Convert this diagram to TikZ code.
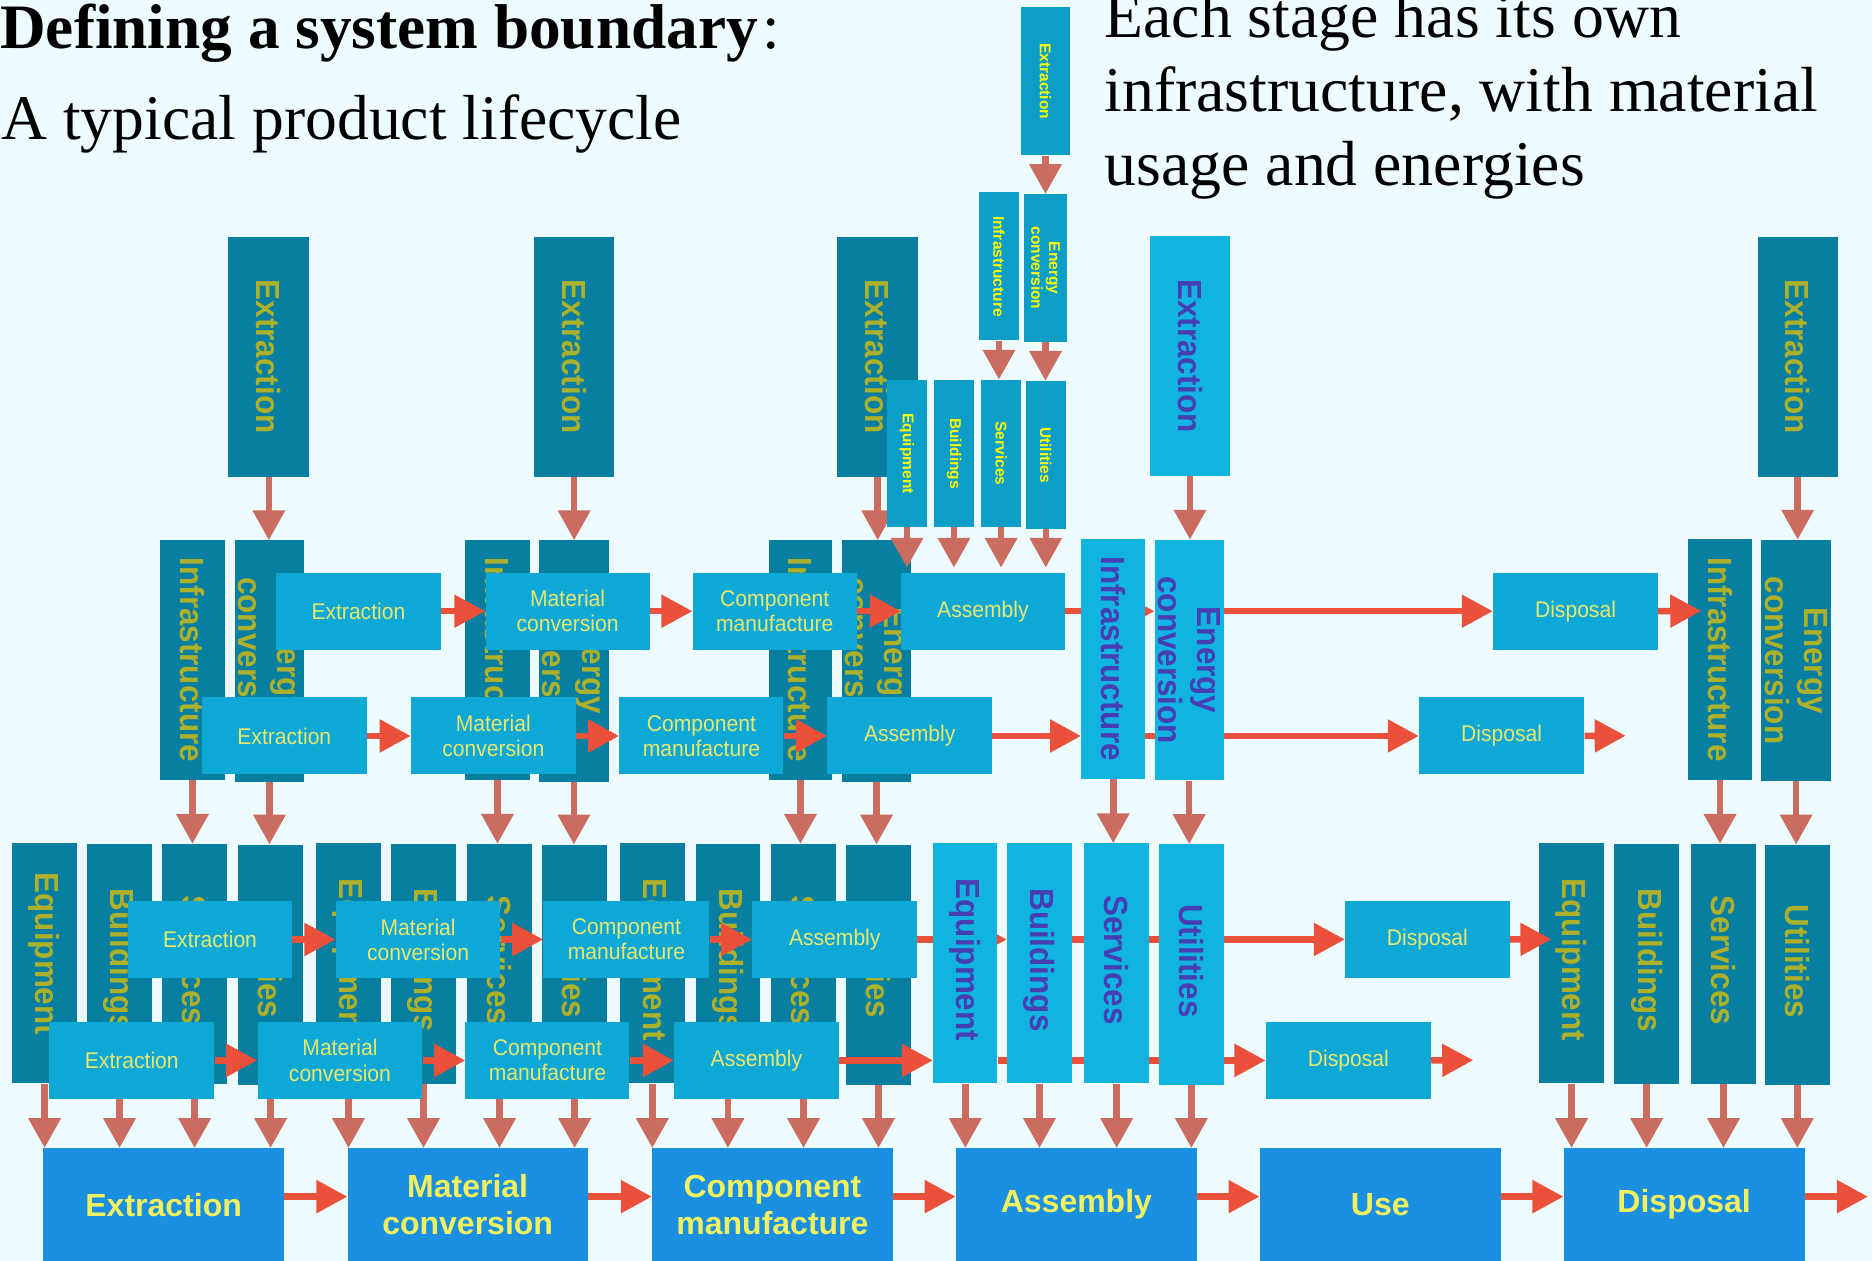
\documentclass[tikz,border=0pt]{standalone}
\usepackage{fontspec}
\setmainfont{Liberation Serif}
\newfontfamily\lsans{Liberation Sans}
\usetikzlibrary{arrows.meta}
\definecolor{cBg}{RGB}{238,252,255}
\definecolor{cTeal}{RGB}{8,126,160}
\definecolor{cOlive}{RGB}{172,176,42}
\definecolor{cBright}{RGB}{17,179,225}
\definecolor{cPurple}{RGB}{70,62,178}
\definecolor{cFlow}{RGB}{14,168,214}
\definecolor{cFtxt}{RGB}{232,232,110}
\definecolor{cTow}{RGB}{13,158,200}
\definecolor{cYel}{RGB}{255,255,0}
\definecolor{cBot}{RGB}{27,143,224}
\definecolor{cBtxt}{RGB}{240,240,96}
\definecolor{cVarr}{RGB}{203,108,96}
\definecolor{cHarr}{RGB}{234,80,58}
\pgfdeclarelayer{L0}\pgfdeclarelayer{L1}\pgfdeclarelayer{L2}\pgfdeclarelayer{L3}
\pgfsetlayers{L0,L1,L2,L3,main}
\newcommand\sq[1]{\scalebox{0.94}[1]{#1}}
\newcommand\fq[1]{\scalebox{0.93}[1]{#1}}
\newcommand\bx[8]{%
  \node[#6,anchor=north west,inner sep=0pt,minimum width={(#4-#2)*1pt},minimum height={(#5-#3)*1pt}] (#1) at (#2,#3) {};
  \node[#7] (#1t) at (#1.center) {#8};}
\tikzset{
  tealbox/.style={fill=cTeal},
  brightbox/.style={fill=cBright},
  flowbox/.style={fill=cFlow},
  towbox/.style={fill=cTow},
  botbox/.style={fill=cBot},
  vt/.style={rotate=-90,inner sep=0pt,align=center,text=cOlive,font=\lsans\bfseries\fontsize{28}{33}\selectfont},
  vtD/.style={vt,text=cPurple},
  lt/.style={vt,xshift=-3pt},
  ltA/.style={vt,xshift=-8pt},
  ltD/.style={vtD,xshift=-3pt},
  tt/.style={rotate=-90,inner sep=0pt,align=center,text=cYel,font=\lsans\bfseries\fontsize{13}{15}\selectfont},
  ft/.style={inner sep=0pt,align=center,text=cFtxt,font=\lsans\fontsize{19}{21}\selectfont},
  bt/.style={inner sep=0pt,align=center,text=cBtxt,font=\lsans\bfseries\fontsize{26.8}{31}\selectfont},
  varr/.style={draw=cVarr,line width=5.5pt,-{Triangle[length=25pt,width=26pt]}},
  harr/.style={draw=cHarr,line width=5.5pt,-{Triangle[length=26pt,width=26.5pt]}},
}
\begin{document}
\begin{tikzpicture}[x=1pt,y=-1pt]
\useasboundingbox (0,0) rectangle (1568,1056);
\begin{pgfonlayer}{L0}
\fill[cBg] (0,0) rectangle (1568,1056);
\end{pgfonlayer}
% ---------- level 1
\begin{pgfonlayer}{L1}
\bx{xA}{191}{198}{259}{399}{tealbox}{vt}{\sq{Extraction}}
\bx{xB}{447}{198}{514.5}{399}{tealbox}{vt}{\sq{Extraction}}
\bx{xC}{701}{198}{769}{399}{tealbox}{vt}{\sq{Extraction}}
\bx{xD}{963}{197.5}{1030}{398.5}{brightbox}{vtD}{\sq{Extraction}}
\bx{xE}{1472}{198}{1539}{399}{tealbox}{vt}{\sq{Extraction}}
\end{pgfonlayer}
% ---------- level 2 and 3
\begin{pgfonlayer}{L2}
\bx{iA}{134}{452}{188}{653}{tealbox}{vt}{\sq{Infrastructure}}
\bx{eA}{196.5}{452.5}{254.5}{654.5}{tealbox}{vt}{\sq{Energy}\\\sq{conversion}}
\bx{iB}{389.5}{452}{443.5}{653}{tealbox}{vt}{\sq{Infrastructure}}
\bx{eB}{451.5}{452.5}{509.5}{654.5}{tealbox}{vt}{\sq{Energy}\\\sq{conversion}}
\bx{iC}{643.5}{452}{697}{653}{tealbox}{vt}{\sq{Infrastructure}}
\bx{eC}{705}{452.5}{763}{654.5}{tealbox}{vt}{\sq{Energy}\\\sq{conversion}}
\bx{iD}{905.5}{451}{959}{652}{brightbox}{vtD}{\sq{Infrastructure}}
\bx{eD}{967}{452}{1024.7}{653.5}{brightbox}{vtD}{\sq{Energy}\\\sq{conversion}}
\bx{iE}{1414}{451.5}{1467}{653}{tealbox}{vt}{\sq{Infrastructure}}
\bx{eE}{1475}{452}{1533.5}{654}{tealbox}{vt}{\sq{Energy}\\\sq{conversion}}
%
\bx{qA}{10}{706.3}{64.3}{907.3}{tealbox}{ltA}{\sq{Equipment}}
\bx{bA}{72.8}{706.8}{127}{907.8}{tealbox}{lt}{\sq{Buildings}}
\bx{sA}{135.6}{706.8}{190}{907.8}{tealbox}{lt}{\sq{Services}}
\bx{uA}{199.3}{707.3}{253.6}{908.8}{tealbox}{lt}{\sq{Utilities}}
\bx{qB}{264.6}{706.3}{318.8}{907.3}{tealbox}{lt}{\sq{Equipment}}
\bx{bB}{327.4}{706.8}{381.6}{907.8}{tealbox}{lt}{\sq{Buildings}}
\bx{sB}{391}{706.8}{445.4}{907.8}{tealbox}{lt}{\sq{Services}}
\bx{uB}{454}{707.3}{508.2}{908.8}{tealbox}{lt}{\sq{Utilities}}
\bx{qC}{519}{706.3}{573.4}{907.3}{tealbox}{lt}{\sq{Equipment}}
\bx{bC}{582.4}{706.8}{636.6}{907.8}{tealbox}{lt}{\sq{Buildings}}
\bx{sC}{645.7}{706.8}{700}{907.8}{tealbox}{lt}{\sq{Services}}
\bx{uC}{708.5}{707.3}{762.7}{908.8}{tealbox}{lt}{\sq{Utilities}}
\bx{qD}{781.4}{706.3}{835.3}{907.3}{brightbox}{ltD}{\sq{Equipment}}
\bx{bD}{843.3}{706.3}{897.6}{907.3}{brightbox}{ltD}{\sq{Buildings}}
\bx{sD}{907.7}{706.3}{962.5}{907.3}{brightbox}{ltD}{\sq{Services}}
\bx{uD}{970.5}{707}{1024.9}{908.3}{brightbox}{ltD}{\sq{Utilities}}
\bx{qE}{1289}{706.3}{1343.3}{907.3}{tealbox}{lt}{\sq{Equipment}}
\bx{bE}{1351.8}{706.8}{1406.2}{907.8}{tealbox}{lt}{\sq{Buildings}}
\bx{sE}{1416.3}{706.8}{1470.5}{907.8}{tealbox}{lt}{\sq{Services}}
\bx{uE}{1478}{707.3}{1532.4}{908.8}{tealbox}{lt}{\sq{Utilities}}
\end{pgfonlayer}
% ---------- small tower
\bx{t0x}{855}{5.6}{896}{130}{towbox}{tt}{Extraction}
\bx{t0i}{820}{161}{853}{285}{towbox}{tt}{Infrastructure}
\bx{t0e}{857.6}{162.5}{893.4}{286}{towbox}{tt}{Energy\\conversion}
\bx{t1q}{743}{318}{776}{441.4}{towbox}{tt}{Equipment}
\bx{t1b}{782}{318}{815.7}{441.4}{towbox}{tt}{Buildings}
\bx{t1s}{821.6}{318}{855}{441.4}{towbox}{tt}{Services}
\bx{t1u}{859}{319}{892.5}{443}{towbox}{tt}{Utilities}
% ---------- flow rows
\bx{f1a}{231}{479.5}{369}{544}{flowbox}{ft}{\fq{Extraction}}
\bx{f1b}{406.5}{479.5}{544}{544}{flowbox}{ft}{\fq{Material}\\\fq{conversion}}
\bx{f1c}{580}{479.5}{717.5}{544}{flowbox}{ft}{\fq{Component}\\\fq{manufacture}}
\bx{f1d}{754.5}{479.5}{891.7}{544}{flowbox}{ft}{\fq{Assembly}}
\bx{f1e}{1250.4}{479.5}{1388.5}{544}{flowbox}{ft}{\fq{Disposal}}
\bx{f2a}{168.6}{584}{307.3}{648.5}{flowbox}{ft}{\fq{Extraction}}
\bx{f2b}{344}{584}{482}{648.5}{flowbox}{ft}{\fq{Material}\\\fq{conversion}}
\bx{f2c}{518.6}{584}{656}{648.5}{flowbox}{ft}{\fq{Component}\\\fq{manufacture}}
\bx{f2d}{692.7}{584}{830.9}{648.5}{flowbox}{ft}{\fq{Assembly}}
\bx{f2e}{1188.4}{584}{1326.8}{648.5}{flowbox}{ft}{\fq{Disposal}}
\bx{f3a}{107}{754.6}{244.5}{818.8}{flowbox}{ft}{\fq{Extraction}}
\bx{f3b}{281}{754.6}{419}{818.8}{flowbox}{ft}{\fq{Material}\\\fq{conversion}}
\bx{f3c}{455}{754.6}{594}{818.8}{flowbox}{ft}{\fq{Component}\\\fq{manufacture}}
\bx{f3d}{630}{754.6}{768}{818.8}{flowbox}{ft}{\fq{Assembly}}
\bx{f3e}{1126.5}{754.6}{1264.3}{818.8}{flowbox}{ft}{\fq{Disposal}}
\bx{f4a}{41}{856}{179.4}{920}{flowbox}{ft}{\fq{Extraction}}
\bx{f4b}{215.5}{856}{353.6}{920}{flowbox}{ft}{\fq{Material}\\\fq{conversion}}
\bx{f4c}{389.7}{856}{527}{920}{flowbox}{ft}{\fq{Component}\\\fq{manufacture}}
\bx{f4d}{564.4}{856}{702.4}{920}{flowbox}{ft}{\fq{Assembly}}
\bx{f4e}{1060}{856}{1198.4}{920}{flowbox}{ft}{\fq{Disposal}}
% ---------- bottom row
\bx{b1}{36.2}{961.6}{237.5}{1056}{botbox}{bt}{Extraction}
\bx{b2}{291}{961.6}{492}{1056}{botbox}{bt}{Material\\conversion}
\bx{b3}{546}{961.6}{747.6}{1056}{botbox}{bt}{Component\\manufacture}
\bx{b4}{800.5}{961.6}{1002.3}{1056}{botbox}{bt}{Assembly}
\bx{b5}{1055}{961.6}{1256.8}{1056}{botbox}{bt}{Use}
\bx{b6}{1309.6}{961.6}{1511.3}{1056}{botbox}{bt}{Disposal}
% ---------- titles
\node[anchor=base west,inner sep=0pt,font=\fontsize{53}{60}\selectfont] (ttl) at (0,41) {\textbf{Defining a system boundary}\hspace{0.08em}:};
\node[anchor=base west,inner sep=0pt,font=\fontsize{53.3}{62}\selectfont] (sub) at (1,117) {A typical product lifecycle};
\node[anchor=base west,inner sep=0pt,font=\fontsize{53.4}{62}\selectfont] (rt1) at (925,31) {Each stage has its own};
\node[anchor=base west,inner sep=0pt,font=\fontsize{53.4}{62}\selectfont] (rt2) at (925,93) {infrastructure, with material};
\node[anchor=base west,inner sep=0pt,font=\fontsize{53.4}{62}\selectfont] (rt3) at (925,155) {usage and energies};
% ---------- free ends
\coordinate (r1end) at (1425,511.75);
\coordinate (r2end) at (1361.7,616.25);
\coordinate (r3end) at (1299.5,786.7);
\coordinate (r4end) at (1234,888);
\coordinate (by) at (0,1002.3);
\coordinate (bend) at (1564.6,1002.3);
% ---------- long lines behind the bright column
\begin{pgfonlayer}{L1}
\draw[harr] (f1d.east) -- (f1d.east -| eD.west);
\draw[harr] (eD.east |- f1e.west) -- (f1e.west);
\draw[harr] (iD.east |- f2e.west) -- (f2e.west);
\draw[harr] (f3d.east) -- (f3d.east -| bD.west);
\draw[harr] (bD.east |- f3e.west) -- (f3e.west);
\draw[harr] (qD.east |- f4e.west) -- (f4e.west);
\end{pgfonlayer}
% ---------- vertical arrows
\begin{pgfonlayer}{L3}
\foreach \g in {A,B,C,D,E}{
  \draw[varr] (x\g.south) -- (x\g.south |- e\g.north);
  \draw[varr] (i\g.south) -- (i\g.south |- s\g.north);
  \draw[varr] (e\g.south) -- (e\g.south |- u\g.north);
}
\foreach \g/\b in {A/b1,B/b2,C/b3,D/b4,E/b6}{
  \foreach \k in {q,b,s,u}{
    \draw[varr] (\k\g.south) -- (\k\g.south |- \b.north);
  }
}
\draw[varr] (t0x.south) -- (t0x.south |- t0e.north);
\draw[varr] (t0i.south) -- (t0i.south |- t1s.north);
\draw[varr] (t0e.south) -- (t0e.south |- t1u.north);
\foreach \k in {t1q,t1b,t1s,t1u}{
  \draw[varr,shorten >=4pt] (\k.south) -- (\k.south |- f1d.north);
}
\end{pgfonlayer}
% ---------- horizontal arrows on top
\foreach \r in {1,2,3,4}{
  \draw[harr] (f\r a.east) -- (f\r b.west);
  \draw[harr] (f\r b.east) -- (f\r c.west);
  \draw[harr] (f\r c.east) -- (f\r d.west);
}
\draw[harr] (f1e.east) -- (r1end);
\draw[harr] (f2d.east) -- (f2d.east -| iD.west);
\draw[harr] (f2e.east) -- (r2end);
\draw[harr] (f3e.east) -- (r3end);
\draw[harr] (f4d.east) -- (f4d.east -| qD.west);
\draw[harr] (f4e.east) -- (r4end);
\draw[harr] (b1.east |- by) -- (b2.west |- by);
\draw[harr] (b2.east |- by) -- (b3.west |- by);
\draw[harr] (b3.east |- by) -- (b4.west |- by);
\draw[harr] (b4.east |- by) -- (b5.west |- by);
\draw[harr] (b5.east |- by) -- (b6.west |- by);
\draw[harr] (b6.east |- by) -- (bend);
\end{tikzpicture}
\end{document}
